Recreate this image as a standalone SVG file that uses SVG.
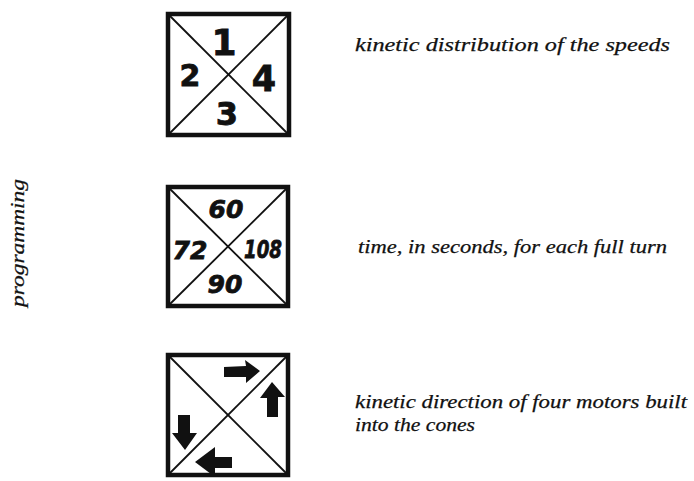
<svg xmlns="http://www.w3.org/2000/svg" width="694" height="481" viewBox="0 0 694 481">
<style>
.frame{fill:none;stroke:#111;stroke-width:4.5}
.diag{stroke:#111;stroke-width:1.8}
.num{font-family:'DejaVu Sans', sans-serif;font-weight:bold;fill:#111;text-anchor:middle;stroke:#111;stroke-width:0.8}
.lbl{font-family:'Liberation Serif', 'DejaVu Serif', serif;font-style:italic;fill:#111;font-size:19px;stroke:#111;stroke-width:0.25}
.arr{fill:#111}
</style>
<rect width="694" height="481" fill="#fff"/>
<g id="side-label">
<text class="lbl" transform="translate(24,243) rotate(-90)" text-anchor="middle" font-size="18" textLength="128" lengthAdjust="spacingAndGlyphs">programming</text>
</g>
<g id="box-speeds">
<rect class="frame" x="168" y="14" width="121" height="121"/>
<line class="diag" x1="169" y1="15" x2="288" y2="134"/>
<line class="diag" x1="288" y1="15" x2="169" y2="134"/>
<text class="num" x="224" y="55" font-size="36">1</text>
<text class="num" x="190" y="86" font-size="30">2</text>
<text class="num" x="264" y="91" font-size="35">4</text>
<text class="num" x="227" y="125" font-size="32">3</text>
</g>
<g id="box-times">
<rect class="frame" x="168" y="187" width="120" height="119"/>
<line class="diag" x1="169" y1="188" x2="287" y2="305"/>
<line class="diag" x1="287" y1="188" x2="169" y2="305"/>
<text class="num" x="226" y="218" font-size="25" font-style="italic">60</text>
<text class="num" x="190" y="259" font-size="25" font-style="italic">72</text>
<text class="num" x="263" y="258" font-size="25" font-style="italic" textLength="38" lengthAdjust="spacingAndGlyphs">108</text>
<text class="num" x="225" y="293" font-size="25" font-style="italic">90</text>
</g>
<g id="box-directions">
<rect class="frame" x="168" y="355" width="120" height="120"/>
<line class="diag" x1="169" y1="356" x2="287" y2="474"/>
<line class="diag" x1="287" y1="356" x2="169" y2="474"/>
<path class="arr" d="M224,367 L246,366 L245,360 L260,371 L246,383 L246,377 L224,377 Z"/>
<path class="arr" d="M267,417 L267,398 L260,398 L272,382 L285,397 L278,397 L278,417 Z"/>
<path class="arr" d="M178,415 L190,415 L190,433 L197,433 L185,450 L172,433 L178,433 Z"/>
<path class="arr" d="M232,457 L232,468 L215,468 L215,477 L195,462 L215,447 L215,457 Z"/>
</g>
<g id="labels">
<text class="lbl" x="355" y="51" textLength="315" lengthAdjust="spacingAndGlyphs">kinetic distribution of the speeds</text>
<text class="lbl" x="358" y="253" textLength="309" lengthAdjust="spacingAndGlyphs">time, in seconds, for each full turn</text>
<text class="lbl" x="355" y="408" textLength="332" lengthAdjust="spacingAndGlyphs">kinetic direction of four motors built</text>
<text class="lbl" x="355" y="431" textLength="120" lengthAdjust="spacingAndGlyphs">into the cones</text>
</g>
<g id="connectors"></g>
</svg>
